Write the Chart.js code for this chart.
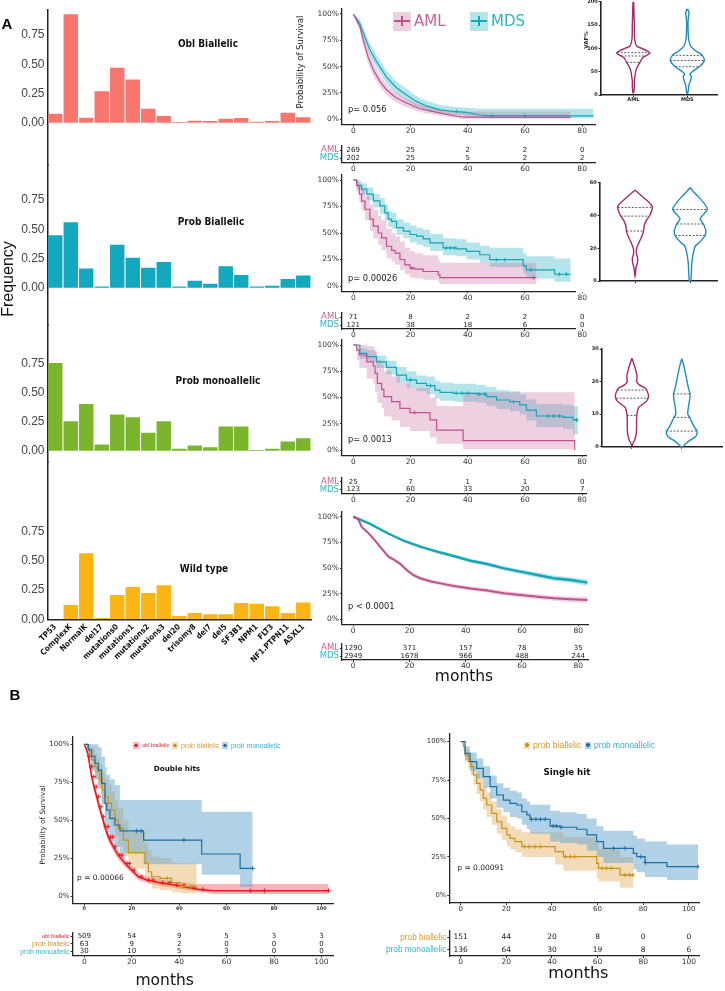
<!DOCTYPE html>
<html>
<head>
<meta charset="utf-8">
<title>TP53 allelic state</title>
<script src="https://cdn.jsdelivr.net/npm/chart.js@4.4.1/dist/chart.umd.min.js"></script>
<style>
  html, body { margin: 0; padding: 0; background: #fff; }
  body { position: relative; width: 725px; height: 991px; overflow: hidden; font-family: "DejaVu Sans", sans-serif; }
  canvas { position: absolute; }
  .lbl { position: absolute; white-space: nowrap; line-height: 1; color: #222; }
  .key { position: absolute; }
  .key i { position: absolute; left: 1px; right: 1px; top: 50%; height: 1.6px; margin-top: -0.8px; }
  .key b { position: absolute; left: 50%; top: 25%; width: 1.6px; height: 50%; margin-left: -0.8px; }
</style>
</head>
<body>
<script>
// ---- bar panels (frequency of alterations)
const genes = ["TP53", "ComplexK", "NormalK", "del17", "mutations0", "mutations1", "mutations2", "mutations3",
  "del20", "trisomy8", "del7", "del5", "SF3B1", "NPM1", "FLT3", "NF1.PTPN11", "ASXL1"];
const oblBiallelic = [0.077, 0.93, 0.043, 0.27, 0.47, 0.37, 0.12, 0.057, 0.005, 0.017, 0.014, 0.034, 0.04, 0.009, 0.014, 0.086, 0.046];
const probBiallelic = [0.45, 0.56, 0.165, 0.011, 0.368, 0.257, 0.171, 0.22, 0.011, 0.06, 0.034, 0.183, 0.108, 0.011, 0.017, 0.074, 0.105];
const probMonoallelic = [0.753, 0.254, 0.402, 0.054, 0.311, 0.288, 0.154, 0.254, 0.017, 0.046, 0.031, 0.208, 0.208, 0.006, 0.017, 0.08, 0.108];
const wildType = [0, 0.123, 0.565, 0.011, 0.208, 0.277, 0.225, 0.291, 0.029, 0.054, 0.043, 0.043, 0.14, 0.134, 0.111, 0.054, 0.143];
const freqTicks = [0, 0.25, 0.5, 0.75];

// ---- survival curves, panel A (months / survival / CI / censored)
const km1AmlTime = [0, 2.3, 3.5, 5.2, 7, 9.3, 11.6, 14.5, 17.5, 21, 23.3, 26.8, 32.6, 38.4, 76];
const km1AmlSurv = [1, 0.88, 0.75, 0.59, 0.47, 0.36, 0.28, 0.215, 0.17, 0.127, 0.1, 0.08, 0.047, 0.02, 0.02];
const km1AmlLow = [1, 0.84, 0.7, 0.53, 0.41, 0.31, 0.23, 0.17, 0.13, 0.09, 0.07, 0.05, 0.025, 0.006, 0.006];
const km1AmlHigh = [1, 0.92, 0.8, 0.65, 0.53, 0.42, 0.33, 0.26, 0.21, 0.17, 0.14, 0.12, 0.085, 0.075, 0.075];
const km1MdsTime = [0, 2.3, 3.5, 5.8, 8.1, 11.6, 15.1, 18.6, 22.1, 25.6, 30.3, 34.9, 39.6, 44.2, 47.7, 84];
const km1MdsSurv = [1, 0.91, 0.82, 0.66, 0.55, 0.4, 0.3, 0.23, 0.17, 0.127, 0.09, 0.076, 0.066, 0.041, 0.032, 0.032];
const km1MdsLow = [1, 0.87, 0.77, 0.6, 0.49, 0.34, 0.24, 0.18, 0.12, 0.085, 0.055, 0.043, 0.035, 0.015, 0.01, 0.01];
const km1MdsHigh = [1, 0.95, 0.87, 0.72, 0.61, 0.46, 0.36, 0.29, 0.22, 0.175, 0.135, 0.12, 0.11, 0.1, 0.1, 0.1];
const km1MdsCens = [36, 48.5, 60];

const km2AmlTime = [0, 1.2, 2.1, 2.9, 4.1, 5.8, 7, 8.7, 9.9, 11.6, 13.4, 14.6, 16.3, 18, 19.8, 21.5, 24.4, 29.7, 30.3, 64];
const km2AmlSurv = [1, 0.946, 0.867, 0.8, 0.724, 0.63, 0.565, 0.5, 0.454, 0.375, 0.336, 0.31, 0.25, 0.2, 0.168, 0.159, 0.137, 0.105, 0.079, 0.079];
const km2AmlLow = [1, 0.89, 0.79, 0.71, 0.62, 0.52, 0.45, 0.39, 0.34, 0.26, 0.23, 0.2, 0.15, 0.11, 0.08, 0.07, 0.06, 0.035, 0.02, 0.02];
const km2AmlHigh = [1, 1, 0.96, 0.91, 0.85, 0.77, 0.72, 0.66, 0.62, 0.54, 0.5, 0.47, 0.42, 0.36, 0.33, 0.31, 0.29, 0.24, 0.22, 0.22];
const km2AmlCens = [20.5, 63];
const km2MdsTime = [0, 1.2, 2.9, 4.7, 7, 9.3, 11, 12.2, 13.4, 15.1, 17.5, 19.8, 22.1, 24.4, 26.8, 31.4, 36.1, 39.6, 44.2, 47.7, 59.4, 60.5, 70.4, 76];
const km2MdsSurv = [1, 0.95, 0.914, 0.867, 0.803, 0.756, 0.69, 0.63, 0.61, 0.55, 0.517, 0.486, 0.47, 0.444, 0.406, 0.359, 0.35, 0.327, 0.295, 0.248, 0.19, 0.152, 0.111, 0.111];
const km2MdsLow = [1, 0.91, 0.86, 0.81, 0.74, 0.68, 0.62, 0.56, 0.54, 0.48, 0.45, 0.41, 0.39, 0.37, 0.33, 0.29, 0.28, 0.25, 0.22, 0.18, 0.12, 0.07, 0.04, 0.04];
const km2MdsHigh = [1, 0.99, 0.97, 0.93, 0.87, 0.83, 0.77, 0.71, 0.69, 0.63, 0.6, 0.57, 0.55, 0.53, 0.49, 0.45, 0.44, 0.41, 0.38, 0.36, 0.31, 0.28, 0.26, 0.26];
const km2MdsCens = [32.5, 34, 35.5, 50, 53, 62, 72, 74.5];

const km3AmlTime = [0, 1.2, 2.1, 4.7, 7, 7.6, 8.4, 9.9, 10.7, 13.4, 16.3, 19.8, 26.8, 29.1, 38.4, 77.4];
const km3AmlSurv = [1, 0.952, 0.905, 0.84, 0.8, 0.73, 0.635, 0.578, 0.508, 0.46, 0.397, 0.356, 0.286, 0.19, 0.089, 0];
const km3AmlLow = [1, 0.86, 0.78, 0.68, 0.63, 0.55, 0.45, 0.4, 0.32, 0.28, 0.22, 0.18, 0.12, 0.06, 0.01, 0.01];
const km3AmlHigh = [1, 1, 1, 0.99, 0.98, 0.93, 0.86, 0.81, 0.75, 0.7, 0.64, 0.59, 0.5, 0.42, 0.55, 0.55];
const km3AmlCens = [21.5];
const km3MdsTime = [0, 2.3, 4.7, 8.1, 11.6, 15.1, 18.6, 22.1, 25.6, 28.5, 30.3, 35, 43.1, 46.6, 50.1, 54.7, 58.2, 60.5, 64, 73.3, 76.8, 78.6];
const km3MdsSurv = [1, 0.92, 0.89, 0.84, 0.787, 0.714, 0.667, 0.635, 0.613, 0.571, 0.549, 0.54, 0.533, 0.508, 0.476, 0.46, 0.43, 0.38, 0.324, 0.311, 0.286, 0.286];
const km3MdsLow = [1, 0.87, 0.84, 0.78, 0.72, 0.64, 0.59, 0.56, 0.53, 0.49, 0.47, 0.46, 0.45, 0.42, 0.39, 0.37, 0.34, 0.28, 0.22, 0.2, 0.15, 0.15];
const km3MdsHigh = [1, 0.97, 0.95, 0.9, 0.85, 0.79, 0.75, 0.71, 0.7, 0.66, 0.64, 0.63, 0.62, 0.6, 0.57, 0.56, 0.53, 0.48, 0.44, 0.43, 0.42, 0.42];
const km3MdsCens = [20, 27, 36, 38, 40, 44, 46, 56, 68, 70, 72, 78];

const km4AmlTime = [0, 1.8, 3, 5.4, 7.7, 10.1, 12.5, 14.3, 16.7, 19, 21.4, 23.8, 27.4, 31, 35.7, 41.7, 47.6, 53.6, 59.5, 65.5, 71.4, 77.4, 83.3];
const km4AmlSurv = [1, 0.974, 0.9, 0.84, 0.77, 0.69, 0.61, 0.584, 0.54, 0.48, 0.43, 0.4, 0.37, 0.35, 0.325, 0.3, 0.28, 0.253, 0.237, 0.22, 0.205, 0.195, 0.188];
const km4AmlLow = [1, 0.965, 0.888, 0.826, 0.755, 0.674, 0.594, 0.567, 0.522, 0.462, 0.412, 0.382, 0.352, 0.331, 0.305, 0.28, 0.26, 0.232, 0.215, 0.197, 0.18, 0.168, 0.16];
const km4AmlHigh = [1, 0.983, 0.912, 0.854, 0.785, 0.706, 0.626, 0.601, 0.558, 0.498, 0.448, 0.418, 0.388, 0.369, 0.345, 0.32, 0.3, 0.274, 0.259, 0.243, 0.23, 0.222, 0.216];
const km4MdsTime = [0, 6, 11.9, 17.9, 23.8, 29.8, 35.7, 41.7, 47.6, 53.6, 59.5, 65.5, 71.4, 77.4, 83.3];
const km4MdsSurv = [1, 0.93, 0.844, 0.766, 0.708, 0.66, 0.617, 0.571, 0.539, 0.497, 0.464, 0.432, 0.4, 0.383, 0.357];
const km4MdsLow = [1, 0.92, 0.832, 0.753, 0.694, 0.645, 0.601, 0.554, 0.52, 0.477, 0.442, 0.408, 0.374, 0.355, 0.327];
const km4MdsHigh = [1, 0.94, 0.856, 0.779, 0.722, 0.675, 0.633, 0.588, 0.558, 0.517, 0.486, 0.456, 0.426, 0.411, 0.387];

// numbers at risk, panel A
const riskTimesA = [0, 20, 40, 60, 80];
const riskGroupsA = ["AML", "MDS"];
const risk1 = [[269, 25, 2, 2, 0], [202, 25, 5, 2, 2]];
const risk2 = [[71, 8, 2, 2, 0], [121, 38, 18, 6, 0]];
const risk3 = [[25, 7, 1, 1, 0], [123, 60, 33, 20, 7]];
const risk4 = [[1290, 371, 157, 78, 35], [2949, 1678, 966, 488, 244]];

// ---- VAF violins
const vafGroups = ["AML", "MDS"];
const v1AmlVals = [200, 150, 120, 105, 100, 95, 90, 85, 80, 70, 60, 50, 40, 30, 20, 10, 5];
const v1AmlDens = [1, 3, 4, 10, 25, 40, 50, 40, 28, 20, 12, 7, 5, 3, 3, 2, 1];
const v1AmlQuart = [90.7, 83.6, 70];
const v1MdsVals = [185, 175, 165, 150, 120, 105, 95, 85, 74, 61, 50, 45, 40, 32, 22, 10, 3];
const v1MdsDens = [1, 5, 3, 2, 4, 10, 25, 45, 51, 37, 15, 8, 12, 10, 5, 3, 1];
const v1MdsQuart = [85, 74, 60.7];
const v2AmlVals = [55.5, 54, 51, 48, 45.5, 43, 40, 37, 34, 30, 27, 24, 20, 17, 14, 11, 8, 4, 3];
const v2AmlDens = [0, 8, 25, 42, 52, 50, 44, 34, 28, 25, 20, 13, 5, 4, 8, 7, 3, 1, 0];
const v2AmlQuart = [44.9, 39.6, 30.5];
const v2MdsVals = [57, 55, 52, 48, 45, 43.6, 41, 38, 34.8, 31, 27.8, 24, 21, 15, 10, 5, 0];
const v2MdsDens = [0, 8, 22, 40, 50, 52, 42, 30, 40, 47, 45, 30, 15, 8, 5, 4, 2];
const v2MdsQuart = [43.6, 34.8, 27.8];
const v3AmlVals = [27.2, 26, 24, 22, 21, 20, 19, 18, 17, 15.5, 14, 13, 12, 10, 8, 6, 4, 2, 1, 0];
const v3AmlDens = [0, 4, 10, 15, 15, 14, 22, 40, 46, 50, 44, 32, 20, 15, 14, 14, 13, 8, 3, 0];
const v3AmlQuart = [17.4, 14.9, 9.6];
const v3MdsVals = [27, 26, 24, 22, 20, 18, 16.2, 14, 12.3, 10, 9, 8, 6, 5, 4.8, 4, 3, 2, 1, 0];
const v3MdsDens = [0, 3, 8, 12, 16, 20, 25, 23, 20, 18, 24, 28, 38, 45, 46, 46, 40, 25, 12, 3];
const v3MdsQuart = [16.2, 9.0, 4.8];

// ---- panel B survival
const dhOblTime = [0, 1, 1.7, 2.4, 3.1, 4.1, 5.2, 6.3, 7.5, 8.7, 10.1, 12.2, 14.3, 17.2, 20, 22.8, 26.3, 31.9, 37.6, 43.2, 48.1, 54.4, 103];
const dhOblSurv = [1, 0.963, 0.92, 0.853, 0.787, 0.72, 0.655, 0.589, 0.523, 0.457, 0.39, 0.325, 0.27, 0.215, 0.171, 0.127, 0.105, 0.088, 0.073, 0.057, 0.044, 0.035, 0.035];
const dhOblLow = [1, 0.945, 0.9, 0.83, 0.76, 0.69, 0.62, 0.555, 0.49, 0.425, 0.36, 0.295, 0.24, 0.19, 0.148, 0.105, 0.085, 0.068, 0.054, 0.04, 0.028, 0.013, 0.013];
const dhOblHigh = [1, 0.98, 0.94, 0.875, 0.81, 0.75, 0.69, 0.62, 0.555, 0.49, 0.42, 0.355, 0.3, 0.24, 0.195, 0.15, 0.128, 0.11, 0.095, 0.085, 0.08, 0.079, 0.079];
const dhOblCens = [2, 3, 4, 5, 6, 7, 8, 9, 10, 11, 12, 13, 15, 16, 18, 19, 21, 24, 27, 29, 33, 36, 39, 42, 46, 50, 70, 76, 103];
const dhBiTime = [0, 1.3, 2.1, 3.1, 4.5, 5.5, 6.6, 7.6, 8.7, 10.1, 11.5, 12.9, 14.3, 16.5, 18.6, 25.6, 27, 28.4, 31.9, 36.8, 40.4, 47.4];
const dhBiSurv = [1, 0.974, 0.94, 0.897, 0.853, 0.82, 0.765, 0.7, 0.655, 0.61, 0.567, 0.5, 0.446, 0.369, 0.286, 0.215, 0.16, 0.127, 0.116, 0.088, 0.062, 0.05];
const dhBiLow = [1, 0.93, 0.88, 0.82, 0.77, 0.73, 0.67, 0.6, 0.55, 0.5, 0.46, 0.39, 0.33, 0.26, 0.18, 0.12, 0.08, 0.05, 0.04, 0.025, 0.018, 0.018];
const dhBiHigh = [1, 1, 1, 0.98, 0.94, 0.91, 0.87, 0.81, 0.77, 0.73, 0.69, 0.63, 0.58, 0.5, 0.42, 0.35, 0.3, 0.26, 0.25, 0.22, 0.215, 0.215];
const dhBiCens = [35, 42, 45];
const dhMonoTime = [0, 1.7, 3.1, 4.5, 5.9, 7.3, 8.7, 9.4, 10.8, 12.9, 15, 25, 49.5, 65.7, 71];
const dhMonoSurv = [1, 0.963, 0.92, 0.875, 0.83, 0.743, 0.61, 0.567, 0.512, 0.468, 0.429, 0.369, 0.277, 0.182, 0.182];
const dhMonoLow = [1, 0.9, 0.83, 0.77, 0.71, 0.61, 0.47, 0.42, 0.36, 0.32, 0.28, 0.21, 0.14, 0.06, 0.06];
const dhMonoHigh = [1, 1, 1, 1, 0.98, 0.92, 0.85, 0.8, 0.77, 0.73, 0.633, 0.633, 0.556, 0.556, 0.556];
const dhMonoCens = [22, 24, 42, 71];

const shBiTime = [0, 1.2, 1.9, 3.4, 4.4, 5.6, 7, 8.5, 9.9, 11.4, 13.6, 15.8, 18, 20.2, 21.6, 23.8, 26.8, 41.4, 45, 59.6, 60.4, 69.9, 75.7];
const shBiSurv = [1, 0.967, 0.913, 0.87, 0.837, 0.783, 0.729, 0.685, 0.631, 0.588, 0.534, 0.479, 0.436, 0.393, 0.371, 0.349, 0.317, 0.284, 0.252, 0.208, 0.176, 0.132, 0.132];
const shBiLow = [1, 0.94, 0.87, 0.82, 0.78, 0.72, 0.66, 0.61, 0.56, 0.51, 0.46, 0.4, 0.36, 0.32, 0.3, 0.28, 0.25, 0.2, 0.16, 0.11, 0.09, 0.05, 0.05];
const shBiHigh = [1, 0.99, 0.95, 0.92, 0.89, 0.84, 0.8, 0.76, 0.71, 0.67, 0.61, 0.56, 0.52, 0.47, 0.45, 0.43, 0.41, 0.41, 0.38, 0.34, 0.3, 0.25, 0.25];
const shBiCens = [28, 30, 32.5, 35, 46, 48, 50, 62, 64, 66, 72, 74, 75.5];
const shMonoTime = [0, 1.9, 4.1, 7, 9.9, 12.9, 15.8, 18.7, 21.6, 24.6, 26.8, 29, 30.4, 39.2, 43.6, 50.9, 55.3, 59.6, 62.6, 75.7, 77.2, 80.8, 90.4, 104.2];
const shMonoSurv = [1, 0.924, 0.87, 0.826, 0.772, 0.707, 0.653, 0.62, 0.599, 0.588, 0.544, 0.523, 0.495, 0.451, 0.443, 0.43, 0.393, 0.349, 0.306, 0.273, 0.252, 0.213, 0.187, 0.187];
const shMonoLow = [1, 0.88, 0.81, 0.76, 0.7, 0.63, 0.57, 0.54, 0.51, 0.5, 0.46, 0.43, 0.4, 0.35, 0.34, 0.33, 0.29, 0.25, 0.21, 0.17, 0.15, 0.12, 0.1, 0.1];
const shMonoHigh = [1, 0.97, 0.93, 0.89, 0.84, 0.78, 0.73, 0.7, 0.68, 0.67, 0.63, 0.61, 0.59, 0.55, 0.54, 0.53, 0.5, 0.45, 0.42, 0.39, 0.37, 0.35, 0.33, 0.33];
const shMonoCens = [31, 33, 35, 37, 40.5, 42, 44, 67, 72, 79, 81, 104];

const riskTimesB = [0, 20, 40, 60, 80, 100];
const dhGroups = ["obl biallelic", "prob biallelic", "prob monoallelic"];
const dhRisk = [[509, 54, 9, 5, 3, 3], [63, 9, 2, 0, 0, 0], [30, 10, 5, 3, 0, 0]];
const shGroups = ["prob biallelic", "prob monoallelic"];
const shRisk = [[151, 44, 20, 8, 0, 0], [136, 64, 30, 19, 8, 6]];
const survTicks = [0, 0.25, 0.5, 0.75, 1];

// ---- colours
const AML_LINE = "#c0508e", AML_BAND = "rgba(205,120,170,0.35)", AML_TEXT = "#c7609a";
const MDS_LINE = "#17a5b8", MDS_BAND = "rgba(60,185,200,0.38)", MDS_TEXT = "#2eb3c6";
const OBL_LINE = "#e8191f", OBL_BAND = "rgba(240,70,80,0.4)";
const BI_LINE = "#c8921c", BI_BAND = "rgba(225,170,80,0.42)", BI_TEXT = "#d29a2b";
const MONO_LINE = "#1c6fa3", MONO_BAND = "rgba(100,165,205,0.5)", MONO_TEXT = "#36b2c9";
const AXIS = "#222";

Chart.defaults.font.family = '"DejaVu Sans", sans-serif';
Chart.defaults.color = "#333";
Chart.defaults.animation = false;
Chart.defaults.responsive = false;
Chart.defaults.devicePixelRatio = 1;
Chart.defaults.plugins.legend.display = false;
Chart.defaults.plugins.tooltip.enabled = false;

const PAD = 14;
const NARROW = '"Liberation Sans Narrow", "DejaVu Sans Condensed", sans-serif';

// canvas placed so that its chart area lands on the given page rectangle
function mount(area, yW, xH) {
    const c = document.createElement("canvas");
    const left = Math.floor(area.l - yW - PAD), top = Math.floor(area.t - PAD);
    const right = Math.ceil(area.r + PAD), bottom = Math.ceil(area.b + xH + PAD);
    c.width = right - left;
    c.height = bottom - top;
    c.style.left = left + "px";
    c.style.top = top + "px";
    document.body.appendChild(c);
    return { canvas: c, padding: { left: area.l - yW - left, top: area.t - top, right: right - area.r, bottom: bottom - area.b - xH } };
}
const fixW = w => s => { s.width = w; };
const fixH = h => s => { s.height = h; };
const setTicks = vals => s => { s.ticks = vals.map(v => ({ value: v })); };

function text(str, x, y, style, mode) {
    const d = document.createElement("div");
    d.className = "lbl";
    d.textContent = str;
    d.style.cssText += style;
    d.style.left = x + "px";
    d.style.top = y + "px";
    d.style.transform = mode === "left" ? "translate(0,-50%)"
        : mode === "rot" ? "translate(-50%,-50%) rotate(-90deg)" : "translate(-50%,-50%)";
    document.body.appendChild(d);
}

function key(x, y, w, h, band, line, label, style) {
    const k = document.createElement("div");
    k.className = "key";
    k.style.cssText = `left:${x}px;top:${y - h / 2}px;width:${w}px;height:${h}px;background:${band}`;
    k.innerHTML = `<i style="background:${line}"></i><b style="background:${line}"></b>`;
    document.body.appendChild(k);
    text(label, x + w + 3, y, style, "left");
}

// ---------- A: frequency bars
const barPanels = [
    { values: oblBiallelic, color: "#f8766d", top: 10, bottom: 165, zero: 122.7 },
    { values: probBiallelic, color: "#12a9be", top: 165, bottom: 325, zero: 287.7 },
    { values: probMonoallelic, color: "#7ab52c", top: 325, bottom: 462, zero: 450.8 },
    { values: wildType, color: "#fdb515", top: 462, bottom: 619.3, zero: 619.3 }
];
const FREQ_PX = 116.7;

barPanels.forEach((p, i) => {
    const last = i === barPanels.length - 1;
    const xH = last ? 50 : 0;
    const m = mount({ l: 47.5, r: 311, t: p.top, b: p.bottom }, 47, xH);
    new Chart(m.canvas, {
        type: "bar",
        data: { labels: genes, datasets: [{ data: p.values, backgroundColor: p.color, barPercentage: 0.93, categoryPercentage: 1 }] },
        options: {
            layout: { padding: m.padding },
            scales: {
                x: {
                    display: last,
                    afterFit: last ? fixH(xH) : undefined,
                    grid: { display: false, drawTicks: false },
                    border: { display: true, color: AXIS, width: 1.5 },
                    ticks: { autoSkip: false, minRotation: 45, maxRotation: 45, padding: 3, color: "#111",
                        font: { family: NARROW, size: 8, weight: "bold" } }
                },
                y: {
                    min: (p.zero - p.bottom) / FREQ_PX,
                    max: (p.zero - p.top) / FREQ_PX,
                    afterBuildTicks: setTicks(freqTicks),
                    afterFit: fixW(47),
                    grid: { display: false, drawTicks: false },
                    border: { color: AXIS, width: 1.5 },
                    ticks: { callback: v => v.toFixed(2), padding: 3, color: "#444",
                        font: { family: '"Liberation Sans", sans-serif', size: 12 } }
                }
            }
        }
    });
});

// ---------- survival chart helper
function survAt(times, surv, t) {
    let s = surv[0];
    times.forEach((tt, i) => { if (tt <= t) s = surv[i]; });
    return s;
}

function kmChart(area, xMin, xMax, xTicks, curves, o) {
    const m = mount(area, o.yW, o.xH);
    const datasets = [];
    curves.forEach(cv => {
        const pts = arr => cv.time.map((t, i) => ({ x: t, y: arr[i] }));
        datasets.push({ data: pts(cv.surv), borderColor: cv.line, borderWidth: cv.lw || 1.2, pointRadius: 0, stepped: cv.stepped, fill: false, order: 0 });
        if (cv.cens) {
            datasets.push({ data: cv.cens.map(t => ({ x: t, y: survAt(cv.time, cv.surv, t) })), showLine: false,
                pointStyle: "cross", pointRadius: o.crossR || 2.5, borderColor: cv.line, borderWidth: 1, order: 0 });
        }
        datasets.push({ data: pts(cv.high), borderColor: "transparent", borderWidth: 0, backgroundColor: cv.band, pointRadius: 0, stepped: cv.stepped, fill: "+1", order: 1 });
        datasets.push({ data: pts(cv.low), borderColor: "transparent", borderWidth: 0, pointRadius: 0, stepped: cv.stepped, fill: false, order: 1 });
    });
    new Chart(m.canvas, {
        type: "line",
        data: { datasets },
        options: {
            layout: { padding: m.padding },
            scales: {
                x: {
                    type: "linear", min: xMin, max: xMax,
                    afterBuildTicks: setTicks(xTicks), afterFit: fixH(o.xH),
                    grid: { drawOnChartArea: false, tickLength: 2, color: AXIS },
                    border: { color: AXIS, width: 1.3 },
                    ticks: { font: o.xFont, color: "#333", padding: 0, maxRotation: 0 }
                },
                y: {
                    min: -0.05, max: 1.05,
                    afterBuildTicks: setTicks(survTicks), afterFit: fixW(o.yW),
                    grid: { drawOnChartArea: false, tickLength: 2, color: AXIS },
                    border: { color: AXIS, width: 1.3 },
                    ticks: { font: o.yFont, color: "#333", padding: 1, callback: v => Math.round(v * 100) + "%" }
                }
            }
        }
    });
}

const riskNumbers = {
    id: "riskNumbers",
    afterDatasetsDraw(chart, args, opts) {
        const ctx = chart.ctx;
        ctx.save();
        ctx.font = opts.font;
        ctx.fillStyle = "#222";
        ctx.textAlign = "center";
        ctx.textBaseline = "middle";
        chart.data.datasets.forEach((ds, di) => {
            chart.getDatasetMeta(di).data.forEach((pt, i) => ctx.fillText(String(ds.counts[i]), pt.x, pt.y));
        });
        ctx.restore();
    }
};

function riskTable(area, xMin, xMax, times, groups, counts, colors, o) {
    const m = mount(area, o.yW, o.xH);
    const datasets = groups.map((g, gi) => ({ data: times.map(t => ({ x: t, y: g })), counts: counts[gi], pointRadius: 0 }));
    new Chart(m.canvas, {
        type: "scatter",
        data: { datasets },
        plugins: [riskNumbers],
        options: {
            layout: { padding: m.padding },
            plugins: { riskNumbers: { font: o.numFont } },
            scales: {
                x: {
                    type: "linear", min: xMin, max: xMax,
                    afterBuildTicks: setTicks(times), afterFit: fixH(o.xH),
                    grid: { drawOnChartArea: false, tickLength: 2, color: AXIS },
                    border: { color: AXIS, width: 1.3 },
                    ticks: { font: o.xFont, color: "#333", padding: 0, maxRotation: 0 }
                },
                y: {
                    type: "category", labels: groups, offset: true,
                    afterFit: fixW(o.yW),
                    grid: { drawOnChartArea: false, tickLength: 2, color: AXIS },
                    border: { color: AXIS, width: 1.3 },
                    ticks: { autoSkip: false, padding: 1, color: c => colors[c.index], font: c => o.labelFonts[c.index] }
                }
            }
        }
    });
}

// ---------- A: survival AML vs MDS
const fA = { yW: 24, xH: 12, xFont: { size: 7.5 }, yFont: { size: 7.5 }, crossR: 2 };
const rtA = { yW: 24, xH: 12, xFont: { size: 7.5 }, numFont: '7px "DejaVu Sans"', labelFonts: [{ size: 8.5 }, { size: 8.5 }] };
const amlMdsColors = [AML_TEXT, MDS_TEXT];

kmChart({ l: 342, r: 595, t: 8.7, b: 124.6 }, -3.95, 84.5, riskTimesA, [
    { time: km1AmlTime, surv: km1AmlSurv, low: km1AmlLow, high: km1AmlHigh, line: AML_LINE, band: AML_BAND, stepped: false },
    { time: km1MdsTime, surv: km1MdsSurv, low: km1MdsLow, high: km1MdsHigh, line: MDS_LINE, band: MDS_BAND, stepped: false, cens: km1MdsCens }
], fA);
riskTable({ l: 342, r: 595, t: 146, b: 162.3 }, -3.95, 84.5, riskTimesA, riskGroupsA, risk1, amlMdsColors, rtA);

kmChart({ l: 342, r: 575, t: 174.7, b: 291.3 }, -3.95, 77.5, riskTimesA, [
    { time: km2AmlTime, surv: km2AmlSurv, low: km2AmlLow, high: km2AmlHigh, line: AML_LINE, band: AML_BAND, stepped: true, cens: km2AmlCens },
    { time: km2MdsTime, surv: km2MdsSurv, low: km2MdsLow, high: km2MdsHigh, line: MDS_LINE, band: MDS_BAND, stepped: true, cens: km2MdsCens }
], fA);
riskTable({ l: 342, r: 575, t: 313, b: 329 }, -3.95, 77.5, riskTimesA, riskGroupsA, risk2, amlMdsColors, rtA);

kmChart({ l: 342, r: 586.7, t: 339.75, b: 455.25 }, -3.95, 81.6, riskTimesA, [
    { time: km3AmlTime, surv: km3AmlSurv, low: km3AmlLow, high: km3AmlHigh, line: AML_LINE, band: AML_BAND, stepped: true, cens: km3AmlCens },
    { time: km3MdsTime, surv: km3MdsSurv, low: km3MdsLow, high: km3MdsHigh, line: MDS_LINE, band: MDS_BAND, stepped: true, cens: km3MdsCens }
], fA);
riskTable({ l: 342, r: 586.7, t: 478, b: 493.3 }, -3.95, 81.6, riskTimesA, riskGroupsA, risk3, amlMdsColors, rtA);

kmChart({ l: 342, r: 588, t: 511.6, b: 624.4 }, -4, 83.5, riskTimesA, [
    { time: km4AmlTime, surv: km4AmlSurv, low: km4AmlLow, high: km4AmlHigh, line: AML_LINE, band: AML_BAND, stepped: false, lw: 2 },
    { time: km4MdsTime, surv: km4MdsSurv, low: km4MdsLow, high: km4MdsHigh, line: MDS_LINE, band: MDS_BAND, stepped: false, lw: 2.4 }
], fA);
riskTable({ l: 342, r: 588, t: 644, b: 660 }, -4, 83.5, riskTimesA, riskGroupsA, risk4, amlMdsColors, rtA);

// ---------- A: VAF violins
function densAt(vals, dens, v) {
    for (let i = 1; i < vals.length; i++) {
        if (v <= vals[i - 1] && v >= vals[i]) {
            const f = (vals[i - 1] - v) / (vals[i - 1] - vals[i]);
            return dens[i - 1] + f * (dens[i] - dens[i - 1]);
        }
    }
    return 0;
}

function violinChart(area, xMin, xMax, yMax, yTicks, groups, k, showNames) {
    const m = mount(area, 14, 10);
    const datasets = [];
    groups.forEach((g, gi) => {
        const c = gi + 1;
        const right = g.vals.map((v, i) => ({ x: c + g.dens[i] * k, y: v }));
        const left = g.vals.map((v, i) => ({ x: c - g.dens[i] * k, y: v })).reverse();
        datasets.push({ data: right.concat(left), showLine: true, borderColor: g.color, borderWidth: 1.4, pointRadius: 0, tension: 0.25 });
        g.quart.forEach(q => {
            const w = densAt(g.vals, g.dens, q) * k;
            datasets.push({ data: [{ x: c - w, y: q }, { x: c + w, y: q }], showLine: true, borderColor: "#333",
                borderWidth: 0.8, borderDash: [2, 1.5], pointRadius: 0 });
        });
    });
    new Chart(m.canvas, {
        type: "scatter",
        data: { datasets },
        options: {
            layout: { padding: m.padding },
            scales: {
                x: {
                    min: xMin, max: xMax, afterBuildTicks: setTicks([1, 2]), afterFit: fixH(10),
                    grid: { drawOnChartArea: false, tickLength: 2, color: AXIS },
                    border: { color: AXIS, width: 1.6 },
                    ticks: { callback: v => showNames ? vafGroups[v - 1] : "", padding: 0, color: "#222", font: { size: 5, weight: "bold" } }
                },
                y: {
                    min: 0, max: yMax, afterBuildTicks: setTicks(yTicks), afterFit: fixW(14),
                    grid: { drawOnChartArea: false, tickLength: 2, color: AXIS },
                    border: { color: AXIS, width: 1.6 },
                    ticks: { padding: 1, color: "#222", font: { size: 5, weight: "bold" } }
                }
            }
        }
    });
}

const AML_VIO = "#a52a6e", MDS_VIO = "#1f8bbf";
violinChart({ l: 600.7, r: 717, t: 1.7, b: 95 }, 0.396, 2.55, 200, [0, 50, 100, 150, 200], [
    { vals: v1AmlVals, dens: v1AmlDens, quart: v1AmlQuart, color: AML_VIO },
    { vals: v1MdsVals, dens: v1MdsDens, quart: v1MdsQuart, color: MDS_VIO }
], 1 / (3 * 54), true);
violinChart({ l: 599.7, r: 717, t: 182.7, b: 281 }, 0.358, 2.49, 60, [0, 20, 40, 60], [
    { vals: v2AmlVals, dens: v2AmlDens, quart: v2AmlQuart, color: AML_VIO },
    { vals: v2MdsVals, dens: v2MdsDens, quart: v2MdsQuart, color: MDS_VIO }
], 1 / (3 * 55), false);
violinChart({ l: 601.7, r: 722, t: 349, b: 446.7 }, 0.394, 2.806, 30, [0, 10, 20, 30], [
    { vals: v3AmlVals, dens: v3AmlDens, quart: v3AmlQuart, color: AML_VIO },
    { vals: v3MdsVals, dens: v3MdsDens, quart: v3MdsQuart, color: MDS_VIO }
], 1 / (3 * 50), false);

// ---------- B: double hits / single hit
kmChart({ l: 72.7, r: 333.3, t: 736.7, b: 903.6 }, -4.9, 105, riskTimesB, [
    { time: dhMonoTime, surv: dhMonoSurv, low: dhMonoLow, high: dhMonoHigh, line: MONO_LINE, band: MONO_BAND, stepped: true, cens: dhMonoCens },
    { time: dhBiTime, surv: dhBiSurv, low: dhBiLow, high: dhBiHigh, line: BI_LINE, band: BI_BAND, stepped: true, cens: dhBiCens },
    { time: dhOblTime, surv: dhOblSurv, low: dhOblLow, high: dhOblHigh, line: OBL_LINE, band: OBL_BAND, stepped: false, lw: 1.6, cens: dhOblCens }
], { yW: 30, xH: 12, xFont: { size: 5, weight: "bold" }, yFont: { size: 7.2 }, crossR: 2.2 });
riskTable({ l: 72.7, r: 333.3, t: 932.3, b: 955.5 }, -4.9, 105, riskTimesB, dhGroups, dhRisk, [OBL_LINE, BI_TEXT, MONO_TEXT],
    { yW: 72, xH: 12, xFont: { size: 7.5 }, numFont: '7px "DejaVu Sans"',
      labelFonts: [{ family: '"Liberation Sans"', size: 5.7 }, { family: '"Liberation Sans"', size: 6.8 }, { family: '"Liberation Sans"', size: 6.8 }] });

kmChart({ l: 449.3, r: 699.3, t: 734, b: 903 }, -5, 104.6, riskTimesB, [
    { time: shMonoTime, surv: shMonoSurv, low: shMonoLow, high: shMonoHigh, line: MONO_LINE, band: MONO_BAND, stepped: true, cens: shMonoCens },
    { time: shBiTime, surv: shBiSurv, low: shBiLow, high: shBiHigh, line: BI_LINE, band: BI_BAND, stepped: true, cens: shBiCens }
], { yW: 26, xH: 12, xFont: { size: 7 }, yFont: { size: 6.8 }, crossR: 2.2 });
riskTable({ l: 449.3, r: 699.3, t: 931, b: 956 }, -5, 104.6, riskTimesB, shGroups, shRisk, [BI_TEXT, MONO_TEXT],
    { yW: 80, xH: 12, xFont: { size: 7.5 }, numFont: '7.5px "DejaVu Sans"',
      labelFonts: [{ family: '"Liberation Sans"', size: 8.3 }, { family: '"Liberation Sans"', size: 8.3 }] });

// ---------- free text
const bold = "font-weight:bold;";
text("A", 7, 23, bold + "font-family:'Liberation Sans',sans-serif;font-size:15px;color:#000");
text("B", 15, 694, bold + "font-family:'Liberation Sans',sans-serif;font-size:15px;color:#000");
text("Frequency", 8, 279, "font-family:'Liberation Sans',sans-serif;font-size:16px;color:#111", "rot");
const titleCss = bold + `font-family:${NARROW};font-size:10px;color:#111`;
text("Obl Biallelic", 208, 44, titleCss);
text("Prob Biallelic", 211, 222, titleCss);
text("Prob monoallelic", 218, 381, titleCss);
text("Wild type", 204, 569, titleCss);

text("Probability of Survival", 300, 62, "font-size:8.5px;color:#222", "rot");
const pCss = "font-size:8.3px;color:#222";
text("p= 0.056", 348, 109, pCss, "left");
text("p= 0.00026", 348, 277.7, pCss, "left");
text("p= 0.0013", 348, 439.3, pCss, "left");
text("p < 0.0001", 348, 606, pCss, "left");
key(393, 21, 18, 19, AML_BAND, AML_LINE, "AML", `font-size:15px;color:${AML_TEXT}`);
key(470, 21, 18, 19, MDS_BAND, MDS_LINE, "MDS", `font-size:15px;color:${MDS_TEXT}`);
text("months", 464, 677, "font-size:15.5px;color:#111");
text("VAF%", 587, 40, bold + "font-size:5.5px;color:#222", "rot");

text("Probability of Survival", 43, 825, "font-size:7.3px;color:#222", "rot");
text("Double hits", 177, 769, bold + "font-size:7.2px;color:#111");
text("p = 0.00066", 77, 877.7, "font-size:7.5px;color:#222", "left");
key(133, 745.7, 6, 7, OBL_BAND, OBL_LINE, "obl biallelic", `font-family:'Liberation Sans';font-size:5.6px;color:${OBL_LINE}`);
key(172, 745.7, 6, 7, BI_BAND, BI_LINE, "prob biallelic", `font-family:'Liberation Sans';font-size:6.9px;color:${BI_TEXT}`);
key(222, 745.7, 6, 7, MONO_BAND, MONO_LINE, "prob monoallelic", `font-family:'Liberation Sans';font-size:6.8px;color:${MONO_TEXT}`);
text("months", 164.7, 981, "font-size:15.5px;color:#111");

text("Single hit", 567, 772.3, bold + "font-size:8.7px;color:#111");
text("p = 0.00091", 457.3, 868.3, "font-size:7.5px;color:#222", "left");
key(524, 745, 6, 7, BI_BAND, BI_LINE, "prob biallelic", `font-family:'Liberation Sans';font-size:8.7px;color:${BI_TEXT}`);
key(585, 745, 6, 7, MONO_BAND, MONO_LINE, "prob monoallelic", `font-family:'Liberation Sans';font-size:8.4px;color:${MONO_TEXT}`);
text("months", 578.3, 973.3, "font-size:16px;color:#111");
</script>
</body>
</html>
